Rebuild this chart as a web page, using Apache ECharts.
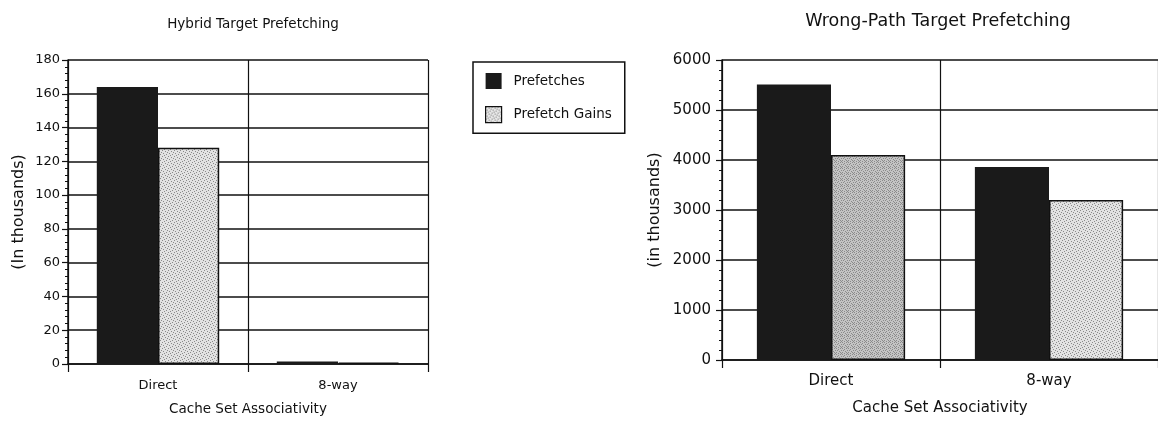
<!DOCTYPE html>
<html>
<head>
<meta charset="utf-8">
<script src="https://cdn.jsdelivr.net/npm/echarts@6/dist/echarts.min.js"></script>
<style>html,body{margin:0;padding:0;background:#fff}#c{width:1158px;height:421px}</style>
</head>
<body>
<div id="c"></div>
<script>
// ---- data ----
const categories = ['Direct', '8-way'];
const hybridPrefetches = [164, 1.5];
const hybridGains = [128, 0.8];
const wrongPathPrefetches = [5510, 3860];
const wrongPathGains = [4100, 3200];
const seriesNames = ['Prefetches', 'Prefetch Gains'];
const titles = ['Hybrid Target Prefetching', 'Wrong-Path Target Prefetching'];
const yNames = ['(In thousands)', '(in thousands)'];
const xName = 'Cache Set Associativity';

// ---- stipple patterns (style only) ----
function makePattern(base, dots, dotColor) {
  const c = document.createElement('canvas');
  c.width = 6; c.height = 6;
  const g = c.getContext('2d');
  g.fillStyle = base; g.fillRect(0, 0, 6, 6);
  g.fillStyle = dotColor;
  dots.forEach(p => g.fillRect(p[0], p[1], 1, 1));
  return { image: c, repeat: 'repeat' };
}
const lightDots = [[0,0],[3,1],[1,3],[4,4],[2,5],[5,2]];
const darkDots = [[0,0],[2,0],[4,1],[1,2],[3,2],[5,3],[0,4],[2,4],[4,5],[1,5]];
const patLight = makePattern('#e2e2e2', lightDots, '#8a8a8a');
const patMid = makePattern('#c4c4c4', darkDots, '#8a8a8a');
const patLeg = makePattern('#e6e6e6', lightDots, '#777');

const font = '"DejaVu Sans", Verdana, sans-serif';
const ink = '#111';

function gains(values, pats) {
  return values.map((v, i) => ({ value: v, itemStyle: { color: pats[i] } }));
}

const chart = echarts.init(document.getElementById('c'), null, { renderer: 'canvas' });

function xAxis(gi, fs, margin, nameFs, nameGap) {
  return {
    gridIndex: gi, type: 'category', data: categories,
    axisLine: { lineStyle: { color: ink, width: 1.5 } },
    axisTick: { show: true, length: 8, lineStyle: { color: ink, width: 1.2 } },
    axisLabel: { color: ink, fontSize: fs, fontFamily: font, margin: margin },
    splitLine: { show: true, lineStyle: { color: ink, width: 1.2 } },
    name: xName, nameLocation: 'middle', nameGap: nameGap,
    nameTextStyle: { color: ink, fontSize: nameFs, fontFamily: font }
  };
}
function yAxis(gi, max, interval, fs, margin, nameFs, nameGap, name) {
  return {
    gridIndex: gi, type: 'value', min: 0, max: max, interval: interval,
    axisLine: { show: true, lineStyle: { color: ink, width: 1.5 } },
    axisTick: { show: true, length: 6, lineStyle: { color: ink, width: 1.2 } },
    minorTick: { show: true, splitNumber: 5, length: 3, lineStyle: { color: ink, width: 1 } },
    axisLabel: { color: ink, fontSize: fs, fontFamily: font, margin: margin, formatter: v => String(v) },
    splitLine: { show: true, lineStyle: { color: ink, width: 1.5 } },
    name: name, nameLocation: 'middle', nameGap: nameGap,
    nameTextStyle: { color: ink, fontSize: nameFs, fontFamily: font }
  };
}

chart.setOption({
  animation: false,
  backgroundColor: '#fff',
  title: [
    { text: titles[0], left: 248, top: 12, textAlign: 'center',
      textStyle: { color: ink, fontSize: 13.5, fontWeight: 'normal', fontFamily: font } },
    { text: titles[1], left: 933, top: 7, textAlign: 'center',
      textStyle: { color: ink, fontSize: 17.5, fontWeight: 'normal', fontFamily: font } }
  ],
  legend: {
    orient: 'vertical', left: 473, top: 62,
    padding: [11, 13, 10, 12], itemGap: 17, itemWidth: 16, itemHeight: 16,
    borderColor: ink, borderWidth: 1.5,
    textStyle: { color: ink, fontSize: 13.5, fontFamily: font, padding: [0, 0, 0, 7] },
    data: [
      { name: seriesNames[0], icon: 'rect', itemStyle: { color: '#1a1a1a' } },
      { name: seriesNames[1], icon: 'rect', itemStyle: { color: patLeg, borderColor: ink, borderWidth: 1.2 } }
    ]
  },
  grid: [
    { left: 68, top: 60, width: 360, height: 311 },
    { left: 722, top: 60, width: 443, height: 309 }
  ],
  xAxis: [xAxis(0, 13, 15, 13.5, 38), xAxis(1, 15, 14, 15, 41)],
  yAxis: [yAxis(0, 180, 20, 13, 8, 16, 41, yNames[0]), yAxis(1, 6000, 1000, 15, 11, 16, 59, yNames[1])],
  series: [
    { name: seriesNames[0], type: 'bar', xAxisIndex: 0, yAxisIndex: 0, data: hybridPrefetches,
      barGap: '0%', barCategoryGap: '32%', itemStyle: { color: '#1a1a1a' } },
    { name: seriesNames[1], type: 'bar', xAxisIndex: 0, yAxisIndex: 0, data: gains(hybridGains, [patLight, patLight]),
      barGap: '0%', barCategoryGap: '32%', itemStyle: { color: patLight, borderColor: ink, borderWidth: 1.5 } },
    { name: seriesNames[0], type: 'bar', xAxisIndex: 1, yAxisIndex: 1, data: wrongPathPrefetches,
      barGap: '0%', barCategoryGap: '32%', itemStyle: { color: '#1a1a1a' } },
    { name: seriesNames[1], type: 'bar', xAxisIndex: 1, yAxisIndex: 1, data: gains(wrongPathGains, [patMid, patLight]),
      barGap: '0%', barCategoryGap: '32%', itemStyle: { color: patLight, borderColor: ink, borderWidth: 1.5 } }
  ]
});
</script>
</body>
</html>
